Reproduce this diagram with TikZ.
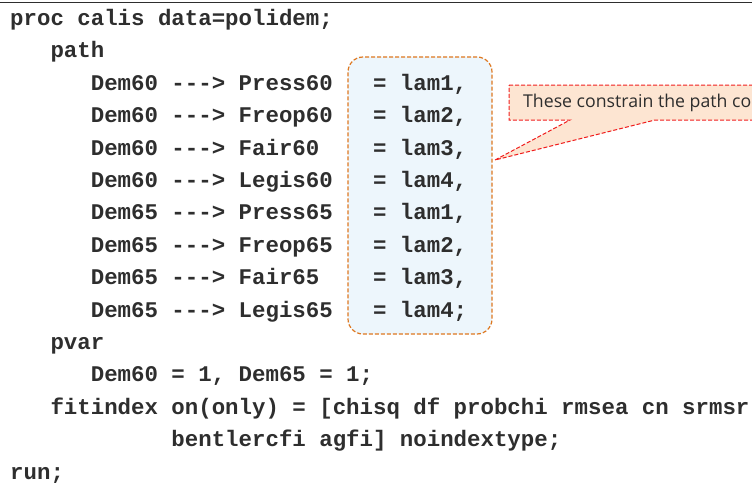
\documentclass[tikz,border=0pt]{standalone}
\usepackage{fontspec}
\setmonofont{Liberation Mono}
\newfontfamily\notefont{Open Sans}
\definecolor{codegray}{HTML}{2E2E2E}
\definecolor{boxline}{HTML}{DE7820}
\definecolor{boxfill}{HTML}{EDF6FC}
\definecolor{noteline}{HTML}{F01E1E}
\definecolor{notefill}{HTML}{FDE5D2}
\begin{document}
\begin{tikzpicture}[x=1pt,y=-1pt,
  code/.style={anchor=base west, inner sep=0pt, text=codegray,
    font=\ttfamily\bfseries\fontsize{22.4}{27}\selectfont},
  lambox/.style={draw=boxline, fill=boxfill, dash pattern=on 4pt off 2pt,
    line width=1.2pt, rounded corners=15pt, inner sep=0pt},
  callout/.style={draw=noteline, fill=notefill, dash pattern=on 4pt off 2pt,
    line width=1pt},
  notetext/.style={anchor=base west, inner sep=0pt, text=codegray,
    font=\notefont\fontsize{17.7}{20}\selectfont}]
\useasboundingbox (0,0) rectangle (752,487);
\clip (0,0) rectangle (752,487);

% rule along the top edge
\coordinate (ruleL) at (0,2.5);
\coordinate (ruleR) at (752,2.5);
\draw[codegray, line width=1.5pt] (ruleL) -- (ruleR);

% box grouping the equality constraints
\node[lambox, minimum width=144pt, minimum height=277pt] (box) at (420,195.5) {};

% callout pointing at the box
\coordinate (tip) at (495,160);
\draw[callout] (509,85) -- (770,85) -- (770,120) -- (655,120) -- (tip)
  -- (570,120) -- (509,120) -- cycle;
\node[notetext] (note) at (523,107) {These constrain the path co};

% program text
\node[code] (l1) at (10,25.5) {proc calis data=polidem;};
\node[code] (l2) at (50.32,57.9) {path};

\node[code] (p1) at (90.64,90.3)  {Dem60 ---> Press60};
\node[code] (p2) at (90.64,122.7) {Dem60 ---> Freop60};
\node[code] (p3) at (90.64,155.1) {Dem60 ---> Fair60};
\node[code] (p4) at (90.64,187.5) {Dem60 ---> Legis60};
\node[code] (p5) at (90.64,219.9) {Dem65 ---> Press65};
\node[code] (p6) at (90.64,252.3) {Dem65 ---> Freop65};
\node[code] (p7) at (90.64,284.7) {Dem65 ---> Fair65};
\node[code] (p8) at (90.64,317.1) {Dem65 ---> Legis65};

\node[code] (e1) at (372.88,90.3)  {= lam1,};
\node[code] (e2) at (372.88,122.7) {= lam2,};
\node[code] (e3) at (372.88,155.1) {= lam3,};
\node[code] (e4) at (372.88,187.5) {= lam4,};
\node[code] (e5) at (372.88,219.9) {= lam1,};
\node[code] (e6) at (372.88,252.3) {= lam2,};
\node[code] (e7) at (372.88,284.7) {= lam3,};
\node[code] (e8) at (372.88,317.1) {= lam4;};

\node[code] (l11) at (50.32,349.5) {pvar};
\node[code] (l12) at (90.64,381.9) {Dem60 = 1, Dem65 = 1;};
\node[code] (l13) at (50.32,414.3) {fitindex on(only) = [chisq df probchi rmsea cn srmsr};
\node[code] (l14) at (171.28,446.7) {bentlercfi agfi] noindextype;};
\node[code] (l15) at (10,479.1) {run;};
\end{tikzpicture}
\end{document}
